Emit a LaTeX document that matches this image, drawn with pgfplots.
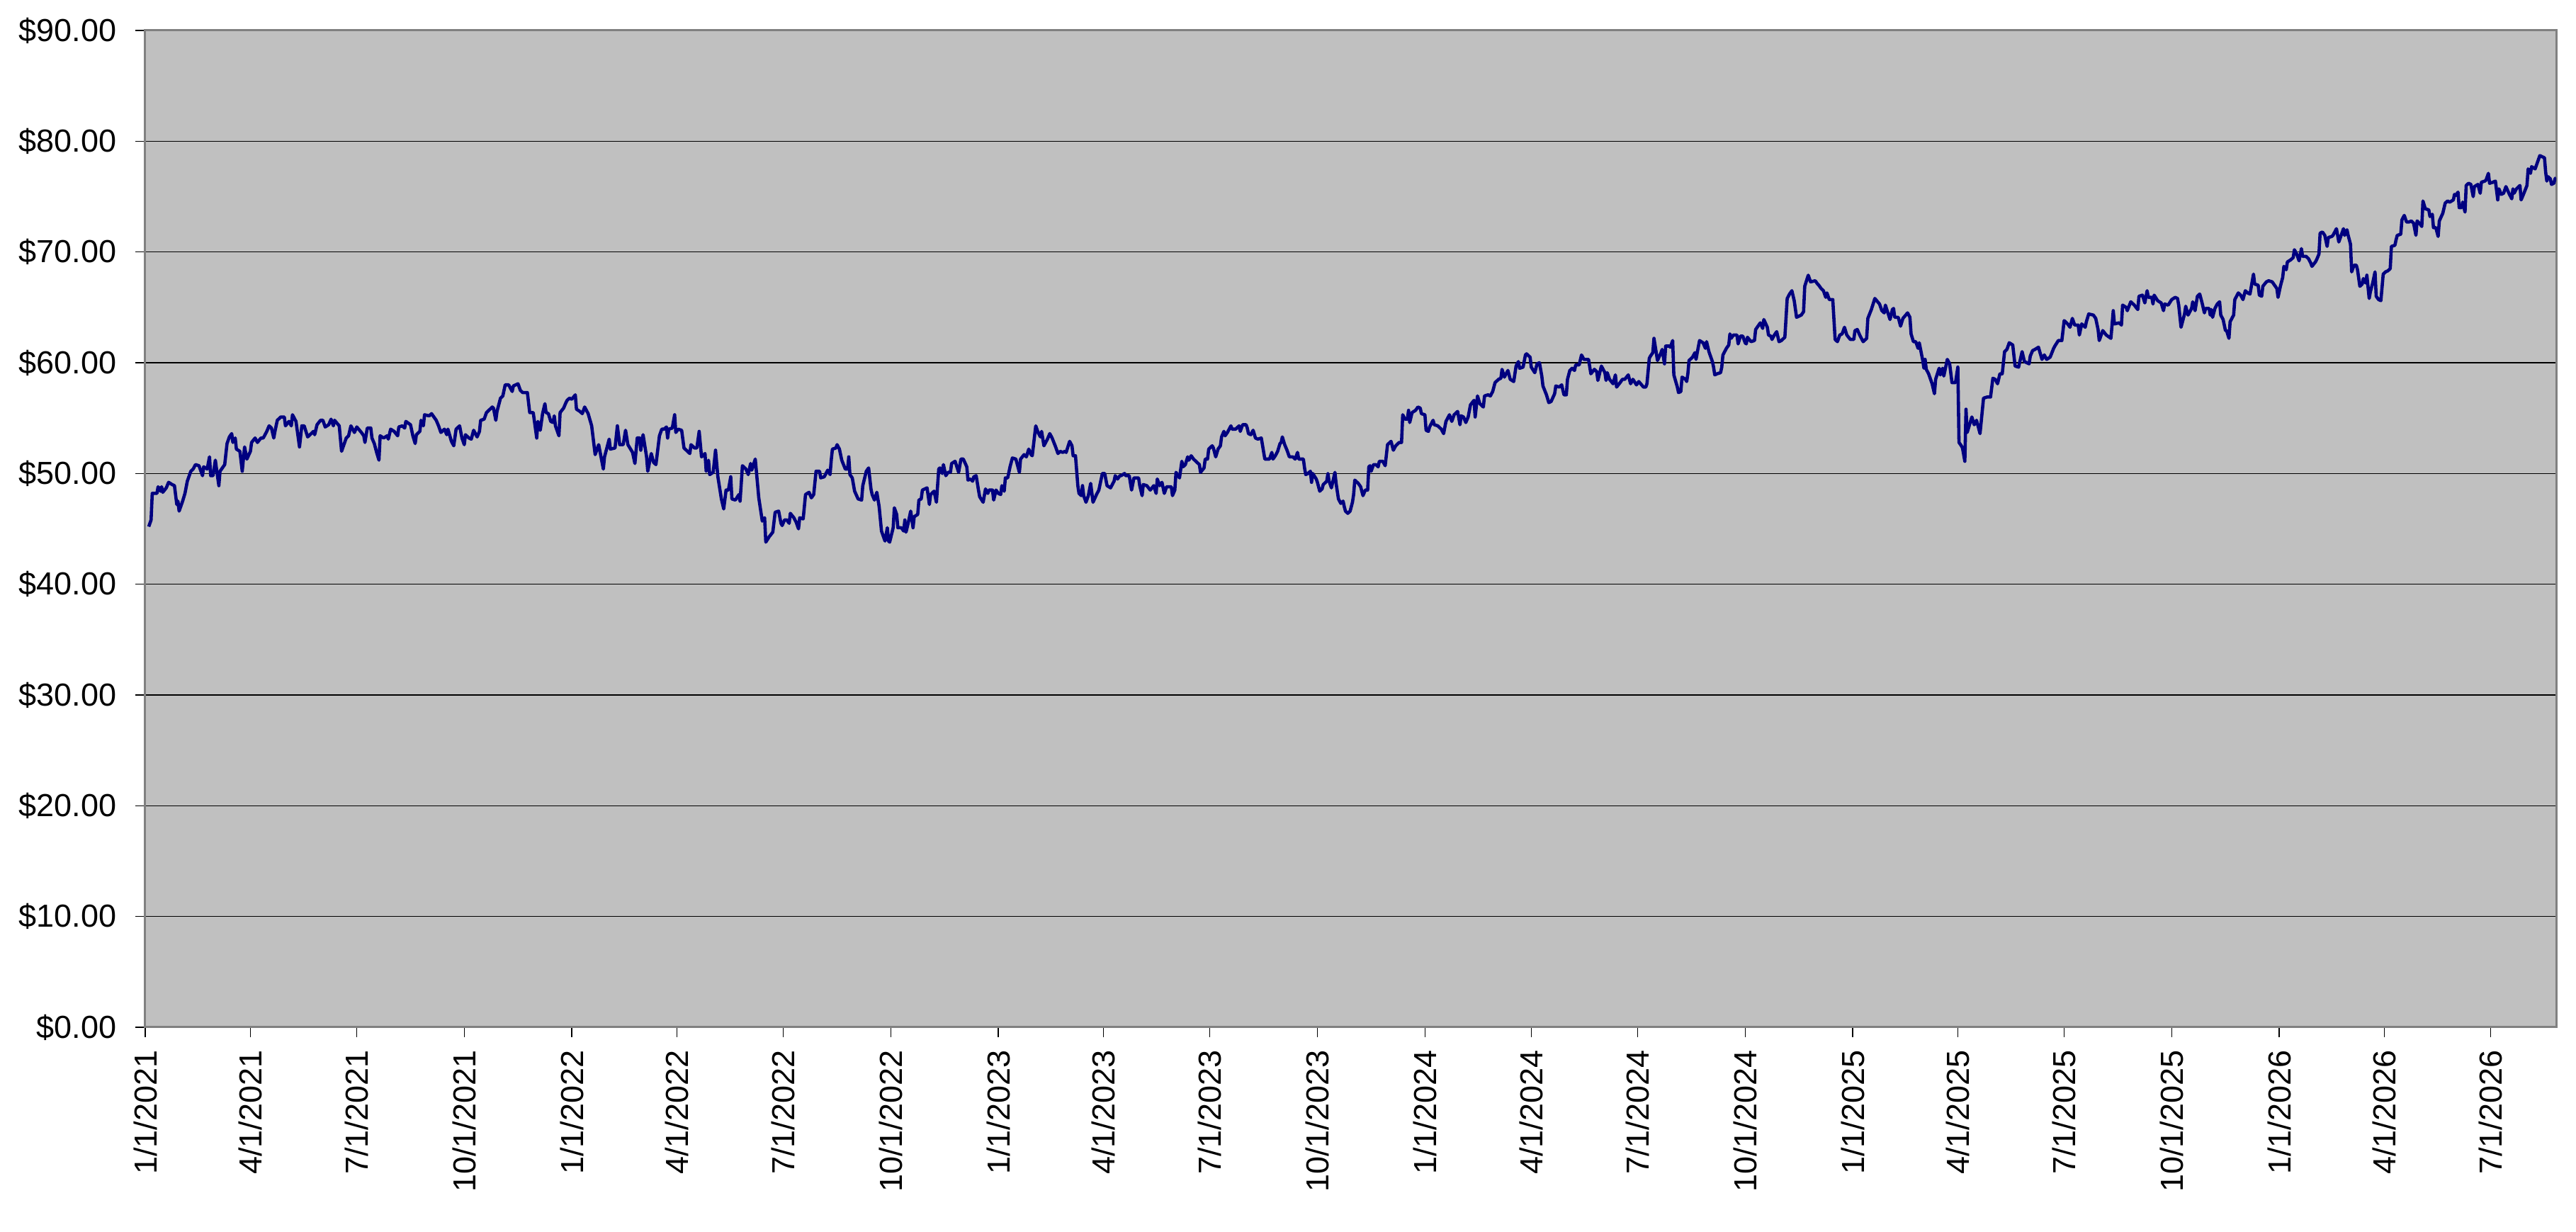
\documentclass[border=0pt]{standalone}
\usepackage{fontspec}
\setmainfont{Liberation Sans}
\usepackage{pgfplots}
\usepackage{pgfplotstable}
\pgfplotsset{compat=1.18}
\definecolor{plotbg}{RGB}{192,192,192}
\definecolor{navyline}{RGB}{0,0,128}
\definecolor{framegray}{RGB}{128,128,128}
\pgfplotstableread{
d v
3 45.2
5 45.8
6 48.2
10 48.2
11 48.8
13 48.4
14 48.8
15 48.3
18 48.7
20 49.2
23 49.0
25 48.9
27 47.2
28 47.5
29 46.6
32 47.5
34 48.2
36 49.3
39 50.2
41 50.4
43 50.8
46 50.7
49 49.8
50 50.6
53 50.4
55 51.5
56 49.8
58 49.8
60 51.2
61 50.4
63 48.9
64 50.2
68 50.8
70 52.7
72 53.3
74 53.6
75 52.8
77 53.2
78 52.2
81 52.0
83 50.2
85 52.4
87 51.3
90 52.0
91 52.8
94 53.2
96 52.8
99 53.2
101 53.2
104 53.8
106 54.3
108 54.1
110 53.2
111 53.8
113 54.8
116 55.1
119 55.1
120 54.3
123 54.7
125 54.3
126 55.3
129 54.7
132 52.4
134 54.3
136 54.3
139 53.3
142 53.6
144 53.8
145 53.5
147 54.4
150 54.8
152 54.8
154 54.2
157 54.4
159 54.9
161 54.3
162 54.8
166 54.3
168 52.0
172 53.2
174 53.4
176 54.3
179 53.7
181 54.2
185 53.7
187 53.4
188 52.8
190 54.1
193 54.1
194 53.2
196 52.7
198 51.9
200 51.2
201 53.4
204 53.2
207 53.4
208 53.1
210 54.0
213 53.8
216 53.4
217 54.2
220 54.3
222 54.1
223 54.7
227 54.4
229 53.4
231 52.7
232 53.5
235 53.8
236 54.8
238 54.3
239 55.3
243 55.2
245 55.4
249 54.8
251 54.3
253 53.7
256 54.0
258 53.5
259 54.0
262 52.9
264 52.5
266 54.0
269 54.3
271 53.2
273 52.6
274 53.5
277 53.2
279 53.1
281 53.9
284 53.3
286 53.8
287 54.8
290 54.9
292 55.5
297 56.0
298 55.9
300 54.8
301 55.6
304 56.8
306 57.0
308 58.0
311 58.0
314 57.4
315 57.9
319 58.1
321 57.5
323 57.3
327 57.3
329 55.5
332 55.5
335 53.2
336 54.7
338 53.9
340 55.4
342 56.3
343 55.5
345 55.4
347 54.7
349 54.6
350 55.2
351 54.3
354 53.4
355 55.5
358 55.9
360 56.4
361 56.6
363 56.8
365 56.7
368 57.1
369 55.8
372 55.6
374 55.4
376 56.0
379 55.4
382 54.3
385 51.7
388 52.6
392 50.4
393 51.5
397 53.1
398 52.2
402 52.3
404 54.3
406 52.6
409 52.6
411 53.9
413 52.6
417 51.9
419 50.9
421 53.2
423 53.2
424 52.1
426 53.5
429 51.5
430 50.2
433 51.8
435 51.0
437 50.8
440 53.4
442 54.0
444 54.0
446 54.2
447 53.2
448 54.0
451 54.1
453 55.3
454 53.7
456 54.0
459 53.9
461 52.3
463 52.1
466 51.8
467 52.6
470 52.3
472 52.3
474 53.8
476 51.5
479 51.8
480 50.2
482 51.2
483 49.9
486 50.1
488 52.1
490 49.7
493 47.7
495 46.8
497 48.5
499 48.5
501 49.7
502 47.7
505 47.6
508 48.1
509 47.5
511 50.7
514 50.4
516 49.9
518 50.9
519 50.3
522 51.3
525 47.8
528 45.7
530 46.0
531 43.8
534 44.3
537 44.7
539 46.5
542 46.6
544 45.5
545 45.3
547 45.8
549 45.8
551 45.5
552 46.4
555 46.0
557 45.6
559 45.0
560 46.0
563 45.9
565 48.1
568 48.3
570 47.8
572 48.1
574 50.2
577 50.2
578 49.6
581 49.7
584 50.3
586 49.9
587 51.2
588 52.2
591 52.3
592 52.6
594 52.2
596 51.2
599 50.4
601 50.4
602 51.5
603 49.9
605 49.6
607 48.4
610 47.7
613 47.6
614 48.9
617 50.2
619 50.5
621 48.6
622 48.1
624 47.6
626 48.3
628 47.0
630 44.8
633 43.9
635 45.1
636 43.9
637 43.8
640 45.1
641 46.9
643 46.3
644 45.1
647 45.1
649 44.8
650 45.8
651 44.7
653 45.6
655 46.6
657 45.1
658 46.1
661 46.3
662 47.6
664 47.7
665 48.5
669 48.7
671 47.2
672 48.1
675 48.4
677 47.4
679 50.4
680 50.5
682 50.0
683 50.8
685 49.8
687 50.1
689 50.1
690 50.9
693 51.1
696 50.1
698 51.3
700 51.3
703 50.6
704 49.4
706 49.5
708 49.3
709 49.7
711 49.8
713 48.5
714 47.9
717 47.4
719 48.6
721 48.2
722 48.5
725 48.5
726 47.6
728 48.5
730 48.2
732 48.1
733 48.9
735 48.4
736 49.6
738 49.6
740 50.6
742 51.4
745 51.3
748 50.1
749 51.3
752 51.7
754 51.5
756 52.2
758 51.7
759 51.6
762 54.3
764 53.7
766 53.3
767 53.8
769 52.5
772 53.1
774 53.6
776 53.2
779 52.4
781 51.8
783 52.0
785 51.9
787 52.0
788 51.9
791 52.9
793 52.5
794 51.6
796 51.6
798 48.9
799 48.2
801 48.0
802 48.9
803 48.0
805 47.4
807 48.0
809 49.1
811 47.4
814 48.1
816 48.5
819 50.0
821 50.0
823 48.9
826 48.7
829 49.3
830 49.8
832 49.5
834 49.8
835 49.8
838 50.0
839 49.8
842 49.8
844 48.5
846 49.6
850 49.6
851 48.9
853 48.0
854 49.0
857 48.9
860 48.5
863 48.9
865 48.2
866 49.5
868 48.9
870 49.2
872 48.2
874 48.8
878 48.8
879 48.0
881 48.5
882 50.1
885 49.6
887 51.1
888 50.6
890 50.8
892 51.5
893 51.2
895 51.6
897 51.3
900 51.0
902 50.8
903 50.1
906 50.5
907 51.3
909 51.3
910 52.2
913 52.5
914 52.3
916 51.5
918 52.2
920 52.5
921 53.3
923 53.8
924 53.4
926 53.7
929 54.3
930 54.0
933 54.0
936 54.3
937 53.8
939 54.4
942 54.4
943 54.1
944 53.6
946 53.5
948 53.9
950 53.2
952 53.1
955 53.2
958 51.3
960 51.3
962 51.3
964 51.9
965 51.3
967 51.6
969 52.0
971 52.7
972 52.8
973 53.3
975 52.6
977 52.1
979 51.5
982 51.5
984 51.3
986 51.9
987 51.3
991 51.3
992 50.5
993 49.9
995 50.0
997 50.2
998 49.2
999 50.0
1002 49.5
1003 49.2
1005 48.4
1007 48.6
1008 49.0
1011 49.3
1012 50.0
1013 49.3
1015 48.7
1018 50.1
1019 49.1
1021 47.7
1023 47.3
1025 47.5
1026 47.0
1027 46.6
1029 46.4
1031 46.6
1033 47.4
1034 48.1
1035 49.4
1038 49.1
1040 48.8
1042 48.0
1044 48.5
1046 48.5
1047 50.6
1048 50.7
1049 50.2
1051 50.8
1053 50.8
1055 50.6
1056 51.1
1059 51.1
1061 50.7
1063 52.6
1066 52.9
1068 52.1
1070 52.5
1073 52.8
1075 52.8
1076 55.3
1078 54.9
1080 54.9
1081 55.7
1082 54.6
1084 55.5
1087 55.7
1089 56.0
1091 55.9
1092 55.4
1095 55.3
1096 53.9
1098 53.8
1099 54.2
1102 54.8
1103 54.4
1106 54.3
1109 54.0
1111 53.6
1113 54.7
1116 55.3
1118 54.7
1120 55.3
1123 55.6
1125 54.4
1126 55.2
1128 55.1
1130 54.6
1132 55.1
1134 56.2
1137 56.6
1138 55.1
1140 57.0
1142 56.3
1145 56.0
1146 57.0
1149 57.1
1151 57.0
1153 57.4
1155 58.2
1158 58.5
1160 58.6
1161 59.4
1163 58.7
1164 58.9
1166 59.3
1168 58.5
1171 58.3
1173 59.7
1175 60.1
1176 59.5
1179 59.6
1181 60.7
1182 60.8
1185 60.5
1186 59.6
1189 59.1
1191 59.9
1193 60.0
1195 58.8
1196 57.9
1199 57.1
1201 56.4
1203 56.5
1206 57.2
1207 57.9
1210 57.8
1212 58.0
1214 57.1
1216 57.1
1217 58.5
1219 59.3
1221 59.5
1223 59.3
1224 59.8
1227 59.8
1229 60.7
1231 60.3
1235 60.3
1237 59.0
1240 59.4
1242 59.2
1243 58.4
1246 59.7
1249 59.1
1250 58.4
1251 59.1
1253 58.5
1256 58.1
1258 58.9
1259 57.8
1262 58.2
1264 58.5
1266 58.5
1269 58.9
1271 58.1
1273 58.5
1276 58.0
1278 58.3
1282 57.8
1284 57.8
1285 58.1
1287 60.4
1288 60.6
1290 60.9
1291 62.2
1294 60.2
1297 60.9
1298 61.2
1300 59.9
1301 61.5
1304 61.5
1305 61.4
1307 62.0
1308 58.9
1311 57.8
1312 57.3
1314 57.4
1315 58.7
1318 58.5
1319 58.3
1320 59.0
1321 60.2
1324 60.5
1326 60.9
1327 60.3
1328 60.9
1330 62.0
1333 61.8
1335 61.3
1336 61.9
1338 61.0
1341 60.1
1342 59.6
1343 58.9
1345 59.0
1348 59.1
1349 59.6
1350 60.7
1352 61.1
1353 61.3
1355 61.6
1356 62.6
1357 62.2
1359 62.5
1362 62.5
1363 61.7
1365 62.4
1367 62.4
1369 61.8
1370 61.7
1371 62.3
1374 61.9
1377 62.0
1378 63.0
1380 63.3
1382 63.6
1384 63.1
1385 63.9
1388 63.2
1389 62.5
1391 62.4
1392 62.1
1394 62.5
1396 62.8
1398 61.9
1400 62.0
1402 62.2
1403 62.3
1405 65.8
1407 66.2
1409 66.5
1411 65.6
1413 64.1
1417 64.3
1419 64.6
1420 66.9
1423 67.9
1425 67.3
1429 67.4
1431 67.1
1432 67.0
1434 66.7
1436 66.5
1438 65.9
1439 66.3
1441 65.7
1444 65.7
1446 62.1
1448 61.9
1450 62.5
1452 62.6
1454 63.2
1456 62.5
1459 62.1
1462 62.1
1463 62.9
1465 63.0
1467 62.5
1470 61.9
1473 62.2
1474 64.0
1477 64.8
1480 65.8
1484 65.3
1486 64.7
1488 64.5
1489 65.2
1493 63.9
1495 64.8
1496 64.9
1497 64.1
1500 64.1
1502 63.3
1504 64.0
1508 64.5
1510 64.1
1511 62.6
1513 61.9
1515 61.9
1517 61.3
1518 61.8
1521 60.2
1522 59.5
1523 60.3
1524 59.4
1526 59.0
1529 58.1
1531 57.2
1532 58.5
1535 59.5
1536 58.9
1538 59.5
1539 58.8
1542 60.3
1544 59.9
1546 58.2
1549 58.2
1551 59.6
1552 52.8
1554 52.5
1555 52.3
1557 51.1
1558 55.8
1559 53.7
1563 55.1
1565 54.4
1567 54.8
1570 53.6
1573 56.8
1576 56.9
1579 56.9
1581 58.6
1583 58.5
1585 58.1
1587 59.0
1589 59.0
1591 61.0
1593 61.2
1595 61.8
1598 61.6
1600 59.7
1603 59.6
1606 61.0
1608 60.1
1612 59.9
1613 60.6
1615 61.1
1617 61.2
1620 61.4
1623 60.3
1625 60.7
1627 60.3
1630 60.5
1633 61.3
1634 61.5
1637 62.0
1640 62.0
1642 63.8
1645 63.5
1647 63.2
1649 64.0
1651 63.4
1654 63.4
1655 62.5
1657 63.5
1660 63.2
1661 63.7
1663 64.4
1667 64.3
1669 64.0
1671 63.0
1672 62.0
1675 62.9
1678 62.5
1682 62.2
1684 64.7
1685 63.5
1689 63.6
1691 63.4
1692 65.2
1695 65.0
1696 64.7
1699 65.5
1702 65.2
1705 64.8
1706 66.0
1709 66.1
1711 65.4
1713 66.5
1714 65.9
1717 65.9
1718 65.3
1719 66.1
1722 65.6
1725 65.4
1727 64.7
1728 65.3
1731 65.2
1734 65.7
1737 65.9
1739 65.8
1740 65.2
1742 63.2
1745 64.4
1746 65.1
1748 64.3
1751 64.9
1752 65.5
1754 64.7
1756 66.0
1758 66.2
1760 65.4
1762 64.5
1763 64.9
1766 64.9
1767 64.3
1768 64.8
1769 64.1
1771 64.9
1773 65.3
1775 65.5
1776 64.3
1778 63.9
1780 62.9
1781 62.9
1783 62.2
1784 63.7
1787 64.3
1788 65.7
1791 66.3
1793 66.1
1795 65.7
1797 66.5
1799 66.3
1801 66.2
1804 68.0
1805 67.1
1808 67.0
1809 66.1
1811 66.0
1812 66.9
1815 67.3
1817 67.4
1820 67.3
1822 67.0
1824 66.7
1825 65.9
1827 66.9
1829 67.7
1830 68.7
1832 68.4
1833 69.1
1836 69.3
1838 69.5
1839 70.2
1841 69.8
1843 69.2
1845 70.3
1846 69.6
1849 69.6
1851 69.4
1853 69.0
1854 68.7
1857 69.1
1858 69.3
1860 69.8
1861 71.7
1863 71.8
1865 71.5
1867 70.5
1868 71.3
1871 71.4
1872 71.5
1875 72.1
1876 71.5
1877 70.9
1881 72.1
1882 71.5
1884 72.0
1885 71.5
1887 70.7
1888 68.2
1890 68.8
1892 68.8
1893 68.4
1895 66.9
1897 67.1
1898 67.6
1900 67.2
1901 67.9
1903 65.8
1904 66.4
1906 67.2
1908 68.2
1909 66.0
1911 65.7
1913 65.6
1915 68.0
1917 68.2
1919 68.3
1921 68.5
1922 70.5
1925 70.6
1926 71.1
1927 71.5
1930 71.6
1931 72.9
1933 73.3
1935 72.7
1937 72.7
1939 72.8
1941 72.6
1943 71.5
1944 72.8
1946 72.6
1948 72.3
1949 74.6
1951 73.9
1954 73.8
1955 73.2
1957 73.4
1958 72.2
1960 72.2
1962 71.4
1963 72.8
1966 73.5
1968 74.4
1970 74.6
1972 74.5
1975 74.7
1976 75.2
1977 75.1
1979 75.4
1980 74.0
1982 74.0
1983 74.5
1985 73.6
1986 76.0
1988 76.2
1990 76.1
1992 75.0
1993 75.9
1996 76.1
1998 75.3
1999 76.3
2002 76.4
2003 76.5
2005 77.1
2006 76.2
2009 76.3
2011 76.4
2013 74.7
2014 75.7
2016 75.2
2018 75.3
2020 75.9
2023 75.2
2025 74.8
2026 75.7
2027 75.3
2029 75.7
2032 76.0
2033 74.7
2035 75.2
2038 76.0
2039 77.5
2041 77.1
2042 77.7
2045 77.5
2047 78.1
2049 78.7
2053 78.5
2054 77.2
2055 76.4
2056 76.8
2058 76.6
2059 76.1
2061 76.2
2062 76.6
2063 76.7
}\pricedata
\begin{document}
\begin{tikzpicture}
\path[use as bounding box] (0,0) rectangle (363.6mm,173.9mm);
\begin{axis}[
  at={(20.5mm,28.9mm)}, anchor=south west,
  scale only axis, width=340.3mm, height=140.7mm,
  xmin=0, xmax=2063, ymin=0, ymax=90,
  axis background/.style={fill=plotbg},
  axis line style={framegray, line width=0.3mm},
  ytick={0,10,...,90},
  yticklabels={\$0.00,\$10.00,\$20.00,\$30.00,\$40.00,\$50.00,\$60.00,\$70.00,\$80.00,\$90.00},
  ymajorgrids,
  major grid style={black, line width=0.4pt},
  xtick={0,90,181,273,365,455,546,638,730,820,911,1003,1095,1186,1277,1369,1461,1551,1642,1734,1826,1916,2007},
  xticklabels={1/1/2021,4/1/2021,7/1/2021,10/1/2021,1/1/2022,4/1/2022,7/1/2022,10/1/2022,1/1/2023,4/1/2023,7/1/2023,10/1/2023,1/1/2024,4/1/2024,7/1/2024,10/1/2024,1/1/2025,4/1/2025,7/1/2025,10/1/2025,1/1/2026,4/1/2026,7/1/2026},
  xtick pos=bottom, ytick pos=left,
  tick align=outside, major tick length=1.4mm,
  tick style={black, line width=0.4pt},
  ticklabel style={font=\fontsize{12.8}{15}\selectfont},
  xticklabel style={rotate=90, anchor=east, inner sep=0pt},
  yticklabel style={anchor=east, inner sep=0pt},
  xticklabel shift=1.8mm,
  yticklabel shift=2.6mm,
]
\addplot[navyline, line width=1.3pt, line join=round, mark=none] table[x=d, y=v] {\pricedata};
\end{axis}
\end{tikzpicture}
\end{document}
